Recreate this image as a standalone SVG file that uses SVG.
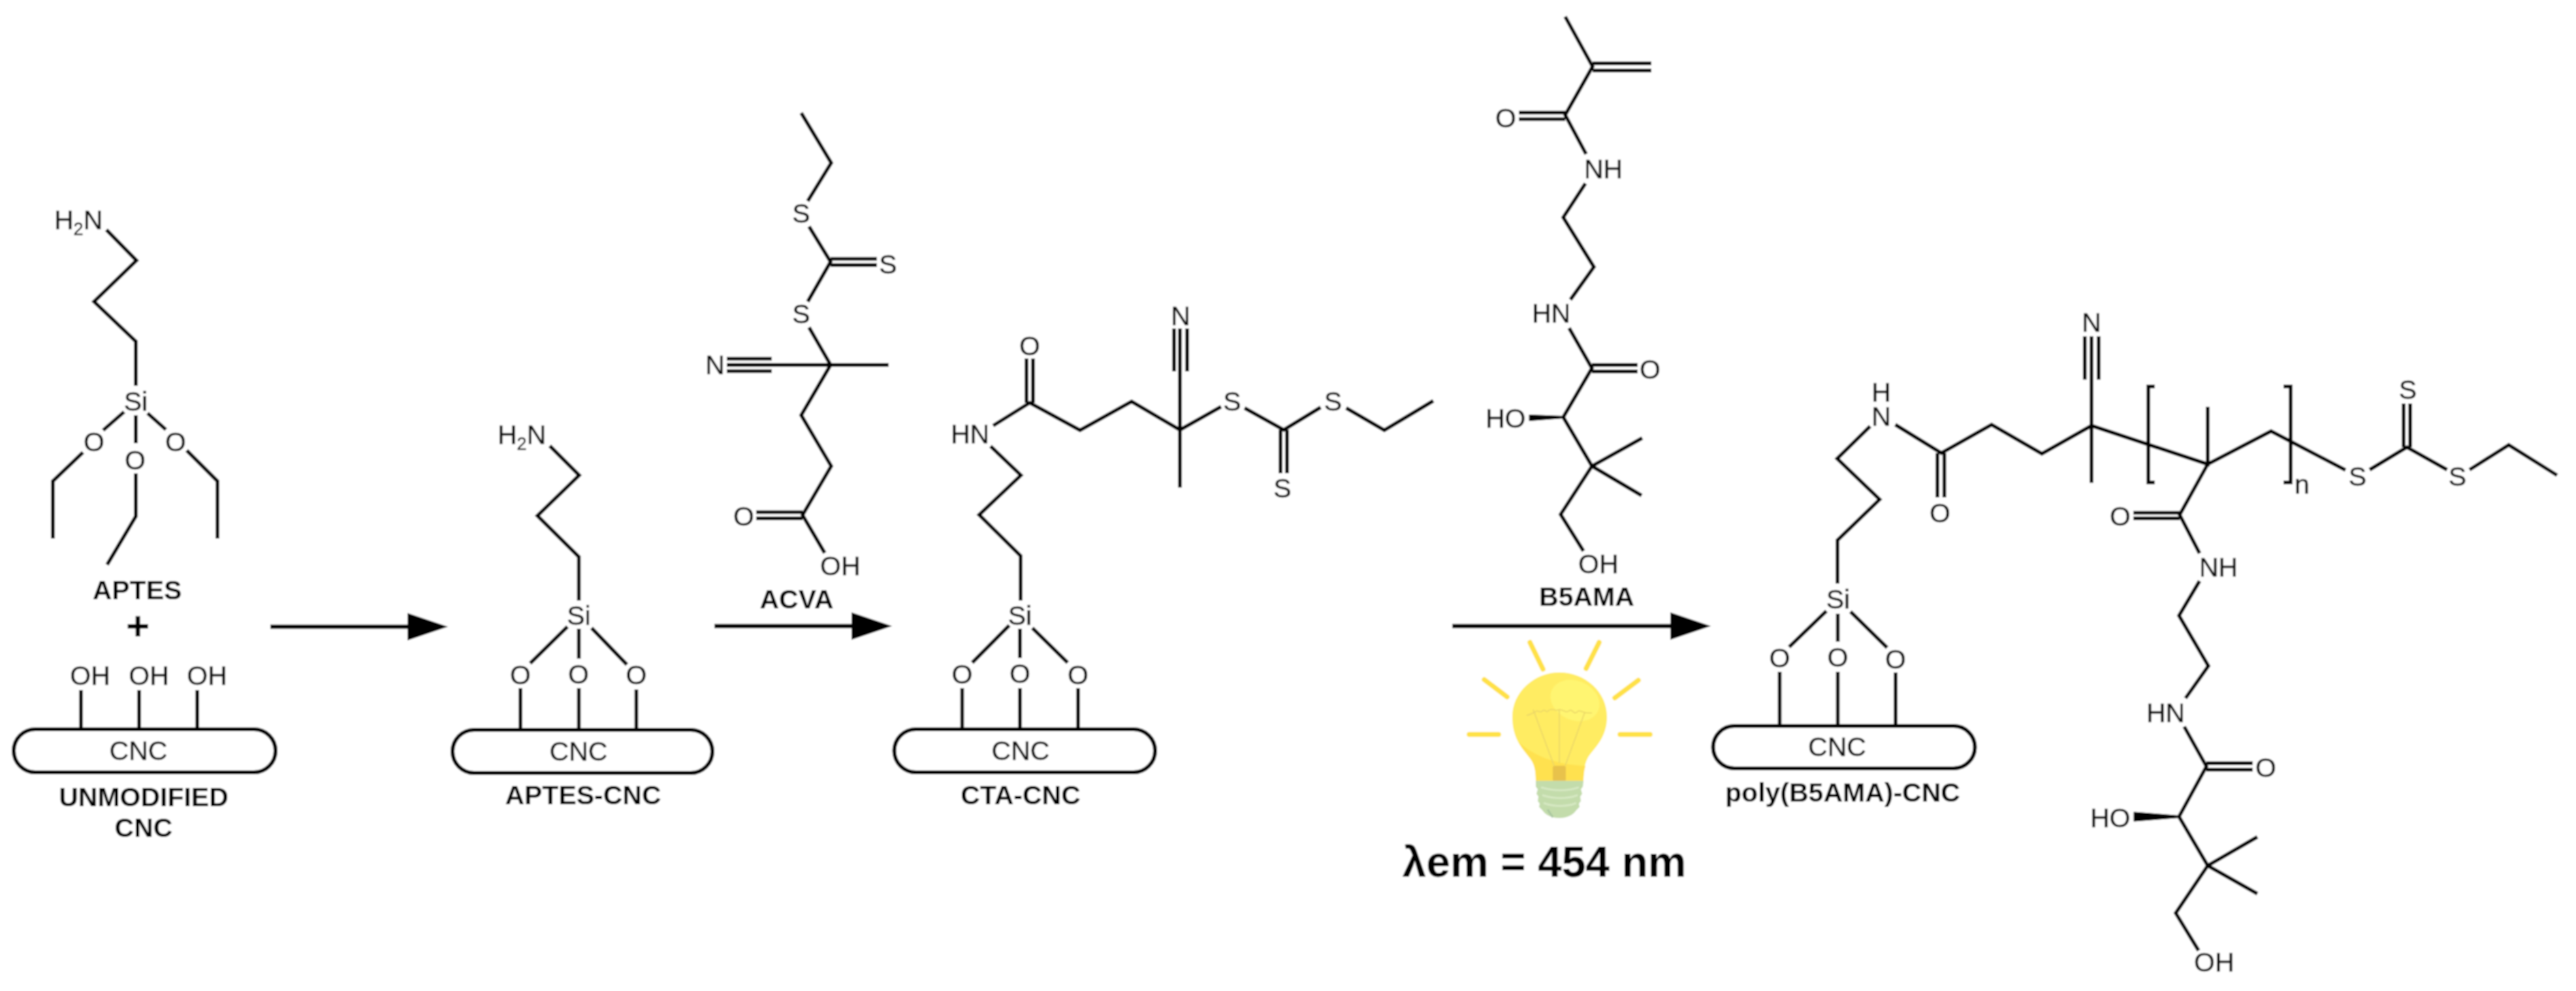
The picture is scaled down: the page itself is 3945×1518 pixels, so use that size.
<svg xmlns="http://www.w3.org/2000/svg" width="3945" height="1518" viewBox="0 0 3945 1518">
<style>
text{font-family:"Liberation Sans",Arial,sans-serif;fill:#111}
.a{font-size:41px;stroke:#111;stroke-width:.5}
.m{text-anchor:middle}
.t{font-size:41px;font-weight:700;text-anchor:middle;fill:#000}
.b{fill:none;stroke:#000;stroke-width:5.6;stroke-linejoin:miter}
.p{fill:#fff;stroke:#000;stroke-width:6}
.arrow{fill:none;stroke:#000;stroke-width:6.500}
.ray{fill:none;stroke:#FFE146;stroke-width:7.500;stroke-linecap:round}
.fil{fill:none;stroke:#EAD568;stroke-width:1.600}
</style>
<defs>
<marker id="head" markerUnits="userSpaceOnUse" markerWidth="62" markerHeight="42" refX="0" refY="21" orient="auto"><path d="M0 0L62 21L0 42Z" fill="#000"/></marker>
<filter id="soft" x="0" y="0" width="1" height="1" filterUnits="objectBoundingBox"><feGaussianBlur stdDeviation="0.8"/></filter>
</defs>
<rect width="3945" height="1518" fill="#fff"/>
<g filter="url(#soft)">
<rect width="3945" height="1518" fill="#fff"/>
<g id="connectors">
<path class="arrow" d="M414 960H624" marker-end="url(#head)"/>
<path class="arrow" d="M1094 959H1304" marker-end="url(#head)"/>
<path class="arrow" d="M2224 959H2558" marker-end="url(#head)"/>
</g>

<g id="aptes">
<path class="b" d="M163 352L209 399L144 462L208 523V591M190 631L158 659M127 693L81 737V825M208 636V679M208 725V791L164 865M226 633L254 658M286 690L333 737V825"/>
<text class="a" x="83" y="351">H<tspan font-size="27" dy="9">2</tspan><tspan dy="-9">N</tspan></text>
<text class="a m" x="208" y="629">Si</text>
<text class="a m" x="144" y="691">O</text>
<text class="a m" x="207" y="719">O</text>
<text class="a m" x="269" y="691">O</text>
<text class="t" x="210" y="918">APTES</text>
<text class="t" x="211" y="980" style="font-size:62px">+</text>
</g>

<g id="unmodified-cnc">
<path class="b" d="M124 1057V1117M213 1057V1117M302 1057V1117"/>
<rect class="p" x="21" y="1117" width="401" height="66" rx="33"/>
<text class="a m" x="138" y="1049">OH</text>
<text class="a m" x="228" y="1049">OH</text>
<text class="a m" x="317" y="1049">OH</text>
<text class="a m" x="212" y="1164">CNC</text>
<text class="t" x="220" y="1235">UNMODIFIED</text>
<text class="t" x="220" y="1282">CNC</text>
</g>

<g id="aptes-cnc">
<path class="b" d="M842 683L887 728L823 790L886.500 853V920M869 960L812 1016M797 1054V1118M886.500 963V1009M886.500 1054V1118M906 962L960 1018M974.500 1056V1118"/>
<rect class="p" x="693" y="1118" width="398" height="66" rx="33"/>
<text class="a" x="762" y="680">H<tspan font-size="27" dy="9">2</tspan><tspan dy="-9">N</tspan></text>
<text class="a m" x="886.500" y="957">Si</text>
<text class="a m" x="797" y="1048">O</text>
<text class="a m" x="886" y="1047">O</text>
<text class="a m" x="974.500" y="1048">O</text>
<text class="a m" x="886" y="1165">CNC</text>
<text class="t" x="893" y="1232">APTES-CNC</text>
</g>

<g id="acva">
<path class="b" d="M1227 173L1273 249.500L1237 308M1239 347L1272 401L1237 462M1272 396.500H1343M1272 406H1343M1239 501.500L1272 559H1361M1272 559H1113M1113 549.500H1182M1113 568.500H1182M1272 559L1227 636L1273 714L1229 789L1263 847M1229 784.500H1158M1229 794H1158"/>
<text class="a m" x="1227" y="341">S</text>
<text class="a m" x="1360" y="419">S</text>
<text class="a m" x="1227" y="495">S</text>
<text class="a m" x="1095" y="573">N</text>
<text class="a m" x="1139" y="805">O</text>
<text class="a" x="1256" y="881">OH</text>
<text class="t" x="1220" y="932">ACVA</text>
</g>

<g id="cta-cnc">
<path class="b" d="M1572 549V617M1582 549V617M1521 652L1577 617L1654 659L1733 615L1807 658.500V503M1798 503V569M1818 503V569M1807 658.500V747M1807 658.500L1870 623M1906 625L1966 658.500L2022.500 624M2061.600 625L2120 659L2195 614M1961 658.500V725M1971 658.500V725M1517 683.500L1563.500 728L1499.500 788.600L1563 851.500V920M1545.600 958L1489 1015M1473.500 1054V1117M1562 963V1008M1562 1054V1117M1581 962L1635 1015M1651 1054V1117"/>
<rect class="p" x="1369.500" y="1117" width="399.500" height="66" rx="33"/>
<text class="a m" x="1577" y="544">O</text>
<text class="a m" x="1808" y="498">N</text>
<text class="a" x="1456" y="679">HN</text>
<text class="a m" x="1887" y="629">S</text>
<text class="a m" x="2041.500" y="629">S</text>
<text class="a m" x="1964" y="762">S</text>
<text class="a m" x="1562" y="957">Si</text>
<text class="a m" x="1473.500" y="1047">O</text>
<text class="a m" x="1562" y="1046">O</text>
<text class="a m" x="1651" y="1048">O</text>
<text class="a m" x="1563" y="1164">CNC</text>
<text class="t" x="1563" y="1232">CTA-CNC</text>
</g>

<g id="b5ama">
<path class="b" d="M2397 25.500L2439 102L2397 176L2429 236M2439 97H2529M2439 108H2529M2397 172.500H2326M2397 182.500H2326M2428 281L2394 333L2441 409L2405 459M2403 502.500L2438 564L2394 639L2438 714L2515 671M2438 714L2514 759M2438 714L2390 788L2425 844M2438 559H2508M2438 569H2508"/>
<path d="M2394 637.500L2342 635.500V644.500L2394 640.500Z" fill="#000" stroke="#000" stroke-width="1"/>
<text class="a m" x="2306" y="195">O</text>
<text class="a" x="2426" y="273">NH</text>
<text class="a" x="2346" y="494">HN</text>
<text class="a m" x="2527" y="580">O</text>
<text class="a" x="2275" y="655">HO</text>
<text class="a" x="2417" y="878">OH</text>
<text class="t" x="2430" y="928">B5AMA</text>
</g>

<g id="lamp">
<path class="ray" d="M2343 984L2363 1025M2449 984L2429 1024M2273 1041L2308 1067.500M2509 1042L2473 1069M2250 1125H2295M2481 1125H2527"/>
<path d="M2352 1196C2352 1180 2350 1170 2342 1160C2330 1145 2316 1130 2316 1098C2316 1060 2350 1030 2388 1030C2428 1030 2461 1060 2461 1098C2461 1130 2442 1145 2432 1160C2427 1170 2425 1180 2425 1196Z" fill="#FFEC62"/>
<path d="M2352 1196C2352 1180 2350 1170 2342 1160C2336 1152 2331 1146 2325 1136C2350 1160 2390 1172 2428 1173C2426 1180 2425 1188 2425 1196Z" fill="#FFE14F"/>
<ellipse cx="2412" cy="1073" rx="39" ry="30" transform="rotate(24 2412 1073)" fill="#FFF571"/>
<path class="fil" d="M2348 1087L2380 1173M2388 1087V1169M2427 1091L2397 1173M2338 1096C2345 1094 2348 1092 2352 1090C2356 1086 2358 1094 2362 1089C2366 1084 2368 1094 2372 1088C2376 1084 2382 1090 2388 1087C2394 1086 2398 1094 2404 1088C2408 1086 2410 1096 2416 1090C2420 1086 2424 1094 2438 1092"/>
<rect x="2378" y="1173" width="20" height="24" rx="3" fill="#E8C24C"/>
<path d="M2352 1196H2425L2424 1205L2421 1209L2423 1216L2420 1220L2421 1227L2418 1231L2419 1236L2414 1241C2410 1247 2402 1253 2388 1253C2374 1253 2366 1247 2362 1241L2357 1236L2358 1231L2355 1227L2356 1220L2353 1216L2355 1209L2352 1205Z" fill="#C3DCAB"/>
<path d="M2360 1206C2380 1212 2400 1212 2418 1206M2362 1218C2380 1224 2400 1224 2416 1218M2364 1230C2380 1236 2400 1236 2414 1230" fill="none" stroke="#D6E8C2" stroke-width="3"/>
<path d="M2370 1240L2378 1252" fill="none" stroke="#A9C6A0" stroke-width="3"/>
<text x="2365" y="1343" style="font-size:66px;font-weight:700;text-anchor:middle;fill:#000">λem = 454 nm</text>
</g>

<g id="poly-b5ama-cnc">
<path class="b" d="M2864 653L2813.500 702.500L2878.600 765L2814 827.500V894M2797 936L2740 991M2725.500 1029V1112M2814.500 940V983M2814.500 1029V1112M2834 937L2890 992M2903 1030V1112M2902.500 650.500L2973 694L3050 650.500L3127 695L3203 652V515M3192.700 515V581.600M3214 515V581.600M3203 652V739.500M2967 694V762M2977.600 694V762M3203 652L3381 711V623M3381 711L3478 660.500L3592 720M3629 719.500L3686 685L3747.500 719.500M3782 719.500L3842 681.600L3916 728M3681 685V618M3691 685V618M3381 711L3338 788.600L3368.500 847.500M3338 785.500H3267M3338 794H3267M3368.500 890L3337 943L3382 1020L3347 1069.500M3345 1113L3379 1174L3337 1251L3381 1326L3457 1282M3381 1326L3457 1369M3381 1326L3332 1398.600L3367 1456M3379 1169H3450M3379 1179H3450"/>
<path d="M3300 592H3290V739H3300M3497 592H3508V739H3497" fill="none" stroke="#000" stroke-width="5.600"/>
<path d="M3337 1249.500L3268 1244V1258L3337 1252.500Z" fill="#000" stroke="#000" stroke-width="1"/>
<rect class="p" x="2623.500" y="1112" width="401" height="65" rx="32.500"/>
<text class="a m" x="2881" y="615">H</text>
<text class="a m" x="2881" y="651.500">N</text>
<text class="a m" x="2971" y="800">O</text>
<text class="a m" x="3203" y="508">N</text>
<text class="a" x="3514" y="756">n</text>
<text class="a m" x="3610.500" y="744">S</text>
<text class="a m" x="3687.500" y="611">S</text>
<text class="a m" x="3763.500" y="744">S</text>
<text class="a m" x="3247" y="805">O</text>
<text class="a" x="3368" y="883">NH</text>
<text class="a" x="3287" y="1106">HN</text>
<text class="a m" x="3470" y="1190">O</text>
<text class="a" x="3201" y="1266.500">HO</text>
<text class="a" x="3360" y="1488">OH</text>
<text class="a m" x="2815" y="932">Si</text>
<text class="a m" x="2725.500" y="1022">O</text>
<text class="a m" x="2814.500" y="1021">O</text>
<text class="a m" x="2903" y="1024">O</text>
<text class="a m" x="2813.500" y="1158">CNC</text>
<text class="t" x="2822" y="1228">poly(B5AMA)-CNC</text>
</g>
</g>
</svg>
